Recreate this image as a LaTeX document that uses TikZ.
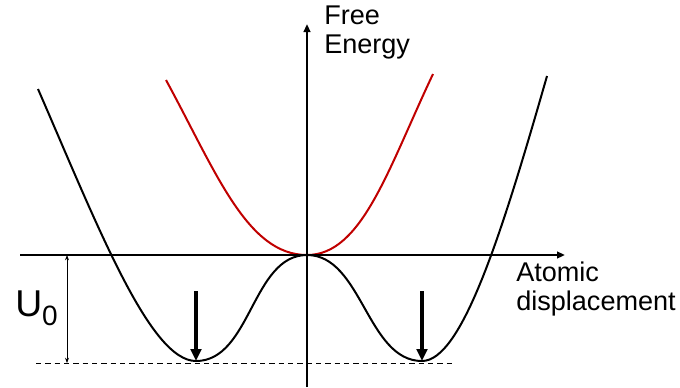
\documentclass[tikz,border=0pt]{standalone}
\usepackage{fontspec}
\setmainfont{Liberation Sans}
\usetikzlibrary{arrows.meta}
\definecolor{softred}{RGB}{192,0,0}

\begin{document}
\begin{tikzpicture}[
    x=0.75pt, y=-0.75pt,
    axis/.style={line width=1.5pt, -{Triangle[length=6pt,width=5pt]}},
    well/.style={line width=1.5pt, black},
    soft/.style={line width=1.5pt, softred},
    drop/.style={line width=2.6pt, -{Triangle[length=9pt,width=8pt]}},
    gap/.style={line width=0.5pt, {Stealth[length=4pt,width=3pt]}-{Stealth[length=4pt,width=3pt]}},
    level/.style={line width=0.75pt, dash pattern=on 4pt off 3pt},
    label/.style={font=\fontsize{20.3}{21.5}\selectfont, inner sep=0pt, align=left}
]
\useasboundingbox (0,0) rectangle (680,387);

% points of the axes
\coordinate (origin) at (307,255);
\coordinate (x-start) at (20,255);
\coordinate (x-end) at (565,255);
\coordinate (y-start) at (307,387);
\coordinate (y-end) at (307,24);

% minima of the double well
\coordinate (min-left) at (196,361);
\coordinate (min-right) at (422,361);
\coordinate (drop-left) at (196,291);
\coordinate (drop-right) at (422,291);

% barrier height
\coordinate (level-start) at (36,363);
\coordinate (level-end) at (455,363);
\coordinate (gap-top) at (67,255);
\coordinate (gap-bottom) at (67,363);

\draw[level] (level-start) -- (level-end);

% stable phase (red) and double well (black)
\draw[soft] (166,80) .. controls (216,172) and (247,255) .. (origin)
    .. controls (362,255) and (388,169) .. (433,74);
\draw[well] (38,89) .. controls (98,227) and (150,361) .. (min-left)
    .. controls (251,361) and (252,255) .. (origin)
    .. controls (362,255) and (367,361) .. (min-right)
    .. controls (462,361) and (502,233) .. (547,76);

% axes
\draw[axis] (x-start) -- (x-end);
\draw[axis] (y-start) -- (y-end);

\draw[gap] (gap-top) -- (gap-bottom);
\draw[drop] (drop-left) -- (min-left);
\draw[drop] (drop-right) -- (min-right);

% labels
\node[label, anchor=north west] (energy-label) at (324,6) {Free\\Energy};
\node[label, anchor=north west] (disp-label) at (516,262) {Atomic\\displacement};
\node[inner sep=0pt, anchor=base west, font=\fontsize{28}{28}\selectfont] (u-label) at (15,316)
    {U{\fontsize{21}{21}\selectfont\raisebox{-6.75pt}{0}}};

\end{tikzpicture}
\end{document}
